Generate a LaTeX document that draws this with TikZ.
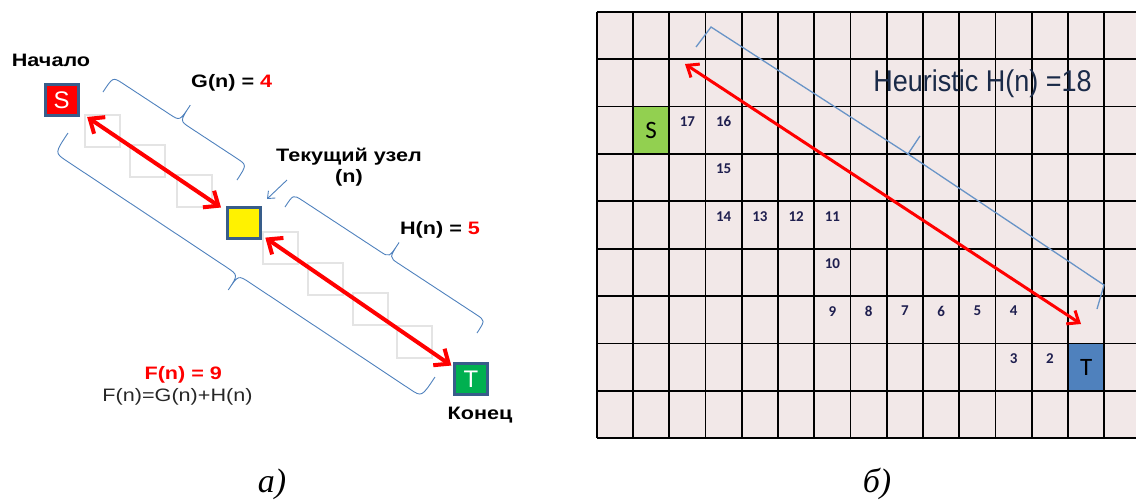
\documentclass[tikz,border=0pt]{standalone}
\usepackage{fontspec}
\setmainfont{Liberation Sans}
\newfontfamily\lsans{Liberation Sans}[FakeStretch=1.2]
\newfontfamily\hsans{Liberation Sans}[FakeStretch=0.9]
\newfontfamily\carl{Carlito}
\newfontfamily\capserif{Liberation Serif}
\usetikzlibrary{arrows.meta,calc}
\definecolor{boxborder}{HTML}{385D8A}
\definecolor{braceblue}{HTML}{4F81BD}
\definecolor{tgreen}{HTML}{00B050}
\definecolor{sgreen}{HTML}{92D050}
\definecolor{tblue}{HTML}{4F81BD}
\definecolor{gridbg}{HTML}{F2E8E8}
\definecolor{sqgray}{HTML}{E4E4E4}
\definecolor{numcol}{HTML}{1F1F4F}
\definecolor{heucol}{HTML}{1A2A48}
\definecolor{formcol}{HTML}{262626}
\tikzset{
  lbl/.style={font=\lsans\fontsize{18}{21}\selectfont\bfseries, inner sep=0pt, align=center},
  formula/.style={font=\lsans\fontsize{18}{21}\selectfont, text=formcol, inner sep=0pt},
  sqbox/.style={draw=boxborder, line width=3pt, minimum width=33pt, minimum height=31pt, inner sep=0pt,
     text=white, font=\fontsize{24}{24}\selectfont},
  graysq/.style={draw=sqgray, line width=1.5pt, minimum width=35pt, minimum height=32pt, inner sep=0pt},
  bracel/.style={draw=braceblue, line width=0.9pt},
  redarrow/.style={draw=red, line width=4pt, {Straight Barb[length=12pt,width=20pt]}-{Straight Barb[length=12pt,width=20pt]}},
  redarrowr/.style={draw=red, line width=3pt, {Straight Barb[length=10pt,width=16pt]}-{Straight Barb[length=10pt,width=16pt]}},
  cell/.style={minimum width=36.26pt, minimum height=47.4pt, inner sep=0pt, font=\carl\fontsize{25}{25}\selectfont},
  num/.style={font=\carl\bfseries\fontsize{15}{15}\selectfont, text=numcol, inner sep=0pt},
  caption/.style={font=\capserif\itshape\fontsize{34}{34}\selectfont, inner sep=0pt}
}
% brace from A to B, bulging to the left of A->B on the page
% #1 A, #2 B, #3 line offset, #4 tip offset, #5 corner length
\newcommand\pbrace[5]{%
  \coordinate (bA) at #1; \coordinate (bB) at #2;
  \coordinate (bM) at ($(bA)!0.5!(bB)$);
  \draw[bracel] (bA) .. controls ($(bA)!#3!90:(bB)$) .. ($($(bA)!#5!(bB)$)!#3!90:(bB)$)
    -- ($($(bM)!#5!(bA)$)!#3!90:(bB)$) .. controls ($(bM)!#3!90:(bB)$) .. ($(bM)!#4!90:(bB)$)
    .. controls ($(bM)!#3!90:(bB)$) .. ($($(bM)!#5!(bB)$)!#3!90:(bB)$)
    -- ($($(bB)!#5!(bA)$)!#3!90:(bB)$) .. controls ($(bB)!#3!-90:(bA)$) .. (bB);
}
\begin{document}
\begin{tikzpicture}[x=1pt,y=-1pt]
\useasboundingbox (0,0) rectangle (1136,501);
% ---------- panel a ----------
\node[graysq] (g1) at (102.5,131) {};
\node[graysq] (g2) at (147.5,161) {};
\node[graysq] (g3) at (194.5,191) {};
\node[graysq] (g4) at (280.5,248) {};
\node[graysq] (g5) at (325.5,279) {};
\node[graysq] (g6) at (370.5,309) {};
\node[graysq] (g7) at (414.5,342) {};
% braces
\pbrace{(103,92)}{(237,180)}{18pt}{37pt}{12pt}
\pbrace{(285,207)}{(477,333)}{15pt}{33pt}{11pt}
\pbrace{(435,377)}{(68,133)}{24pt}{42pt}{14pt}
% boxes
\node[sqbox, fill=red] (S) at (61.7,99.8) {S};
\node[sqbox, fill=yellow] (Y) at (244,223) {};
\node[sqbox, fill=tgreen] (T) at (471,379) {T};
% arrows
\draw[redarrow, shorten <=9pt, shorten >=6pt] (S) -- (Y);
\draw[redarrow, shorten <=4pt, shorten >=2pt] (Y) -- (T);
\coordinate (ca) at (287,180);
\coordinate (cb) at (267,199);
\draw[draw=braceblue, line width=0.9pt, -{Straight Barb[length=6pt,width=10pt]}] (ca) -- (cb);
% labels
\node[lbl] (start) at (51,60) {Начало};
\node[lbl] (gl) at (231.7,83.3) {G(n) = \textcolor{red}{4}};
\node[lbl] (cur) at (349,167) {Текущий узел\\(n)};
\node[lbl] (hl) at (440,230) {H(n) = \textcolor{red}{5}};
\node[lbl, text=red] (fl) at (183.3,375) {F(n) = 9};
\node[formula] (ff) at (177.5,396.7) {F(n)=G(n)+H(n)};
\node[lbl] (end) at (480,415) {Конец};
% ---------- panel b ----------
\fill[gridbg] (596.7,11.7) rectangle (1136,438.3);
\node[cell, fill=sgreen] (Scell) at ({596.7+1.5*36.26},{11.7+2.5*47.4}) {S};
\node[cell, fill=tblue] (Tcell) at ({596.7+13.5*36.26},{11.7+7.5*47.4}) {T};
\foreach \k in {0,...,14} \draw[line width=1.8pt] ({596.7+\k*36.26},11.7) -- ({596.7+\k*36.26},438.3);
\foreach \j in {0,...,9} \draw[line width=1.8pt] (596.7,{11.7+\j*47.4}) -- (1136,{11.7+\j*47.4});
\foreach \c/\r/\t in {2/2/17,3/2/16,3/3/15,3/4/14,4/4/13,5/4/12,6/4/11,6/5/10,6/6/9,7/6/8,8/6/7,9/6/6,10/6/5,11/6/4,11/7/3,12/7/2}
  \node[num] (n\t) at ({596.7+(\c+0.5)*36.26},{11.7+\r*47.4+15}) {\t};
\draw[draw=braceblue!85, line width=1.3pt] (696,47) -- (711,27) -- (908,154) -- (920,136);
\draw[draw=braceblue!85, line width=1.3pt] (908,154) -- (1104,285) -- (1097,309);
\coordinate (h1) at (685,64);
\coordinate (h2) at (1081,324);
\draw[redarrowr] (h1) -- (h2);
\node[font=\hsans\fontsize{30}{30}\selectfont, text=heucol, inner sep=0pt] (heu) at (982.5,83.3) {Heuristic H(n) =18};
% captions
\node[caption] (ca1) at (272,484) {а)};
\node[caption] (cb1) at (877,484) {б)};
\end{tikzpicture}
\end{document}
